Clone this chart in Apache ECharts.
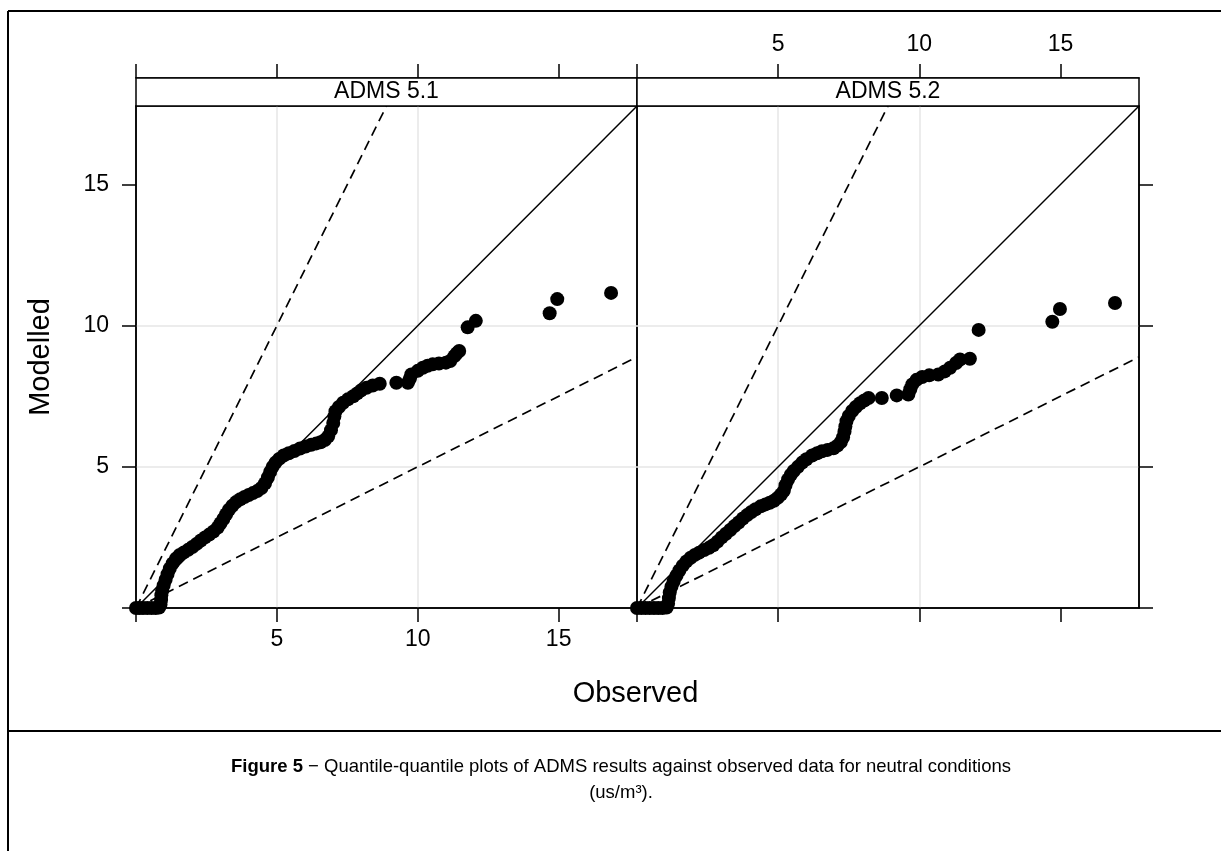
<!DOCTYPE html>
<html><head><meta charset="utf-8">
<script src="https://cdn.jsdelivr.net/npm/echarts@6/dist/echarts.min.js"></script>
<style>html,body{margin:0;padding:0;background:#fff}#c{width:1221px;height:851px}</style>
</head><body><div id="c"></div>
<script>
// ---- data ----
const panelTitles = ['ADMS 5.1', 'ADMS 5.2'];
const tickValues = [0, 5, 10, 15];
const tickLabels = [5, 10, 15];
const axisMax = 17.78;
const refSlopes = [1, 2, 0.5];          // 1:1 line and factor-of-two lines
const refStyles = ['solid', 'dashed', 'dashed'];
const xTitle = 'Observed';
const yTitle = 'Modelled';

// [observed quantile, modelled quantile]
const adms51 = [
  [0,0],[0.12,0],[0.25,0],[0.4,0],[0.55,0],[0.7,0],[0.82,0.02],[0.87,0.12],[0.89,0.28],[0.9,0.45],
  [0.93,0.62],[0.98,0.8],[1.05,1.0],[1.12,1.2],[1.2,1.4],[1.3,1.58],[1.42,1.75],[1.55,1.88],[1.7,1.97],
  [1.85,2.06],[2.0,2.16],[2.15,2.27],[2.3,2.39],[2.45,2.5],[2.6,2.6],[2.75,2.71],[2.9,2.85],[3.0,3.0],
  [3.1,3.15],[3.2,3.32],[3.3,3.48],[3.42,3.62],[3.55,3.75],[3.7,3.85],[3.85,3.93],[4.0,4.0],[4.15,4.07],
  [4.3,4.14],[4.45,4.25],[4.58,4.42],[4.68,4.62],[4.76,4.82],[4.85,5.0],[4.95,5.15],[5.08,5.28],[5.24,5.4],
  [5.42,5.48],[5.62,5.56],[5.82,5.65],[6.02,5.72],[6.22,5.78],[6.4,5.83],[6.55,5.87],[6.7,5.95],[6.82,6.08],
  [6.92,6.3],[7.0,6.55],[7.04,6.78],[7.08,6.97],[7.2,7.12],[7.35,7.27],[7.52,7.39],[7.71,7.5],[7.85,7.6],
  [7.98,7.7],[8.18,7.8],[8.4,7.88],[8.65,7.94],[9.24,7.98],[9.65,7.98],[9.72,8.12],[9.77,8.27],[10.0,8.4],
  [10.18,8.51],[10.35,8.58],[10.53,8.63],[10.75,8.66],[11.0,8.69],[11.15,8.75],[11.3,8.92],[11.38,9.02],
  [11.47,9.1],[11.77,9.94],[12.06,10.17],[14.68,10.44],[14.95,10.94],[16.86,11.16]
];
const adms52 = [
  [0,0],[0.15,0],[0.3,0],[0.45,0],[0.6,0],[0.75,0],[0.9,0],[1.05,0.02],[1.1,0.15],[1.13,0.35],[1.16,0.55],
  [1.22,0.75],[1.3,0.95],[1.4,1.15],[1.5,1.33],[1.62,1.5],[1.75,1.65],[1.9,1.78],[2.05,1.88],[2.2,1.96],
  [2.38,2.05],[2.55,2.13],[2.7,2.22],[2.85,2.35],[3.0,2.5],[3.15,2.63],[3.3,2.76],[3.45,2.9],[3.6,3.03],
  [3.75,3.17],[3.9,3.29],[4.05,3.4],[4.2,3.5],[4.38,3.6],[4.55,3.67],[4.7,3.73],[4.85,3.8],[4.98,3.9],
  [5.1,4.02],[5.2,4.15],[5.26,4.35],[5.35,4.55],[5.45,4.72],[5.55,4.85],[5.7,5.0],[5.85,5.15],[6.0,5.27],
  [6.2,5.4],[6.38,5.48],[6.55,5.55],[6.75,5.6],[6.96,5.66],[7.1,5.75],[7.22,5.88],[7.3,6.05],[7.35,6.25],
  [7.38,6.43],[7.42,6.62],[7.5,6.8],[7.62,6.98],[7.75,7.12],[7.9,7.25],[8.05,7.35],[8.2,7.44],[8.67,7.44],
  [9.2,7.53],[9.61,7.56],[9.68,7.75],[9.75,7.92],[9.9,8.08],[10.1,8.18],[10.35,8.24],[10.67,8.27],
  [10.9,8.38],[11.09,8.51],[11.3,8.68],[11.44,8.8],[11.79,8.83],[12.1,9.85],[14.71,10.14],[14.98,10.59],
  [16.93,10.8]
];
const panelData = [adms51, adms52];

// ---- layout / style ----
const FONT = '"Liberation Sans", Arial, Helvetica, sans-serif';
const gridTop = 106, gridH = 502, stripH = 28, tickLen = 14;
const grids = [
  { left: 136, top: gridTop, width: 501, height: gridH },
  { left: 637, top: gridTop, width: 502, height: gridH }
];
const black = '#000', gridColor = '#e6e6e6';

function xAxisDef(gi, pos, showLabels, showSplit) {
  return {
    type: 'value', gridIndex: gi, position: pos, min: 0, max: axisMax, interval: 5,
    offset: pos === 'top' ? stripH : 0,
    axisLine: { show: true, onZero: false, lineStyle: { color: black, width: 1.5 } },
    axisTick: { show: true, inside: false, length: tickLen, customValues: tickValues,
      lineStyle: { color: black, width: 1.5 } },
    axisLabel: { show: showLabels, customValues: tickLabels, fontSize: 23, color: black,
      fontFamily: FONT, margin: pos === 'top' ? 22 : 20 },
    splitLine: { show: showSplit, showMinLine: false, showMaxLine: false,
      lineStyle: { color: gridColor, width: 1.5 } }
  };
}
function yAxisDef(gi, pos, showLabels) {
  return {
    type: 'value', gridIndex: gi, position: pos, min: 0, max: axisMax, interval: 5,
    axisLine: { show: true, onZero: false, lineStyle: { color: black, width: 1.5 } },
    axisTick: { show: true, inside: false, length: tickLen, customValues: tickValues,
      lineStyle: { color: black, width: 1.5 } },
    axisLabel: { show: showLabels, customValues: tickLabels, fontSize: 23, color: black,
      fontFamily: FONT, margin: 27 },
    splitLine: { show: true, showMinLine: false, showMaxLine: false,
      lineStyle: { color: gridColor, width: 1.5 } }
  };
}

const xAxes = [
  xAxisDef(0, 'bottom', true, true),
  xAxisDef(0, 'top', false, false),
  xAxisDef(1, 'bottom', false, true),
  xAxisDef(1, 'top', true, false)
];
const yAxes = [yAxisDef(0, 'left', true), yAxisDef(1, 'right', false)];

const series = [];
panelData.forEach((pts, gi) => {
  const xi = gi * 2;
  refSlopes.forEach((s, k) => {
    series.push({
      type: 'line', xAxisIndex: xi, yAxisIndex: gi, silent: true, showSymbol: false, clip: true,
      z: 2, lineStyle: { color: black, width: refStyles[k] === 'dashed' ? 1.7 : 1.5,
        type: refStyles[k] === 'dashed' ? [10, 6] : 'solid' },
      data: [[0, 0], [Math.min(axisMax, axisMax / s), Math.min(axisMax, axisMax * s)]]
    });
  });
  series.push({
    type: 'scatter', xAxisIndex: xi, yAxisIndex: gi, symbol: 'circle', symbolSize: 14, z: 3,
    itemStyle: { color: black, opacity: 1 }, data: pts
  });
});

const graphics = [];
grids.forEach((g, i) => {
  graphics.push({ type: 'rect', z: 50,
    shape: { x: g.left, y: g.top - stripH, width: g.width, height: stripH },
    style: { fill: '#fff', stroke: black, lineWidth: 1.5 } });
  graphics.push({ type: 'text', z: 51, x: g.left + g.width / 2, y: g.top - stripH / 2,
    style: { text: panelTitles[i], font: '23px ' + FONT, fill: black, align: 'center', verticalAlign: 'middle' } });
});
const midX = (grids[0].left + grids[1].left + grids[1].width) / 2;
graphics.push({ type: 'text', z: 51, x: midX - 2, y: 694,
  style: { text: xTitle, font: '29px ' + FONT, fill: black, align: 'center', verticalAlign: 'middle' } });
graphics.push({ type: 'text', z: 51, x: 41, y: gridTop + gridH / 2, rotation: Math.PI / 2,
  style: { text: yTitle, font: '29px ' + FONT, fill: black, align: 'center', verticalAlign: 'middle' } });
// figure frame and caption
graphics.push({ type: 'line', z: 60, shape: { x1: 8, y1: 11, x2: 1221, y2: 11 }, style: { stroke: black, lineWidth: 2 } });
graphics.push({ type: 'line', z: 60, shape: { x1: 8, y1: 11, x2: 8, y2: 851 }, style: { stroke: black, lineWidth: 2 } });
graphics.push({ type: 'line', z: 60, shape: { x1: 8, y1: 731, x2: 1221, y2: 731 }, style: { stroke: black, lineWidth: 2 } });
graphics.push({ type: 'text', z: 61, x: 621, y: 767,
  style: { text: '{b|Figure 5} − Quantile-quantile plots of ADMS results against observed data for neutral conditions',
    font: '18.5px ' + FONT, fill: black, align: 'center', verticalAlign: 'middle',
    rich: { b: { fontWeight: 'bold', fontSize: 18.5, fontFamily: FONT } } } });
graphics.push({ type: 'text', z: 61, x: 621, y: 793,
  style: { text: '(us/m³).', font: '18.5px ' + FONT, fill: black, align: 'center', verticalAlign: 'middle' } });

const chart = echarts.init(document.getElementById('c'), null, { renderer: 'canvas' });
chart.setOption({
  animation: false,
  backgroundColor: '#fff',
  grid: grids.map(g => Object.assign({ show: true, borderColor: black, borderWidth: 1.5, backgroundColor: 'transparent' }, g)),
  xAxis: xAxes,
  yAxis: yAxes,
  series: series,
  graphic: { elements: graphics }
});
</script>
</body></html>
